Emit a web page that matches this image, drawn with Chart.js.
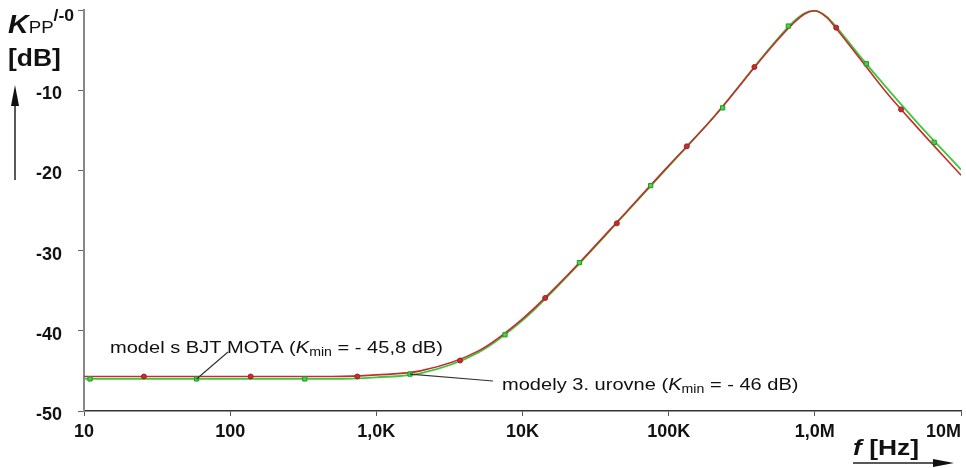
<!DOCTYPE html>
<html>
<head>
<meta charset="utf-8">
<script src="https://cdn.jsdelivr.net/npm/chart.js@4.4.0/dist/chart.umd.min.js"></script>
<style>
  html, body { margin: 0; padding: 0; background: #fff; }
</style>
</head>
<body>
<canvas id="chartKpp" width="966" height="468"></canvas>
<script>
// frekvencie [Hz], v ktorych su odcitane priebehy
const freqs = [10, 20, 50, 100, 200, 500, 1e3, 2e3, 5e3, 1e4, 2e4, 5e4, 1e5, 2e5, 5e5, 7e5, 8.5e5, 1e6, 1.2e6, 1.4e6, 2e6, 3e6, 5e6, 1e7];
// model s BJT MOTA [dB]
const kBjtMota = [-45.7, -45.7, -45.7, -45.7, -45.7, -45.7, -45.5, -45.0, -42.5, -38.5, -33.2, -25.4, -19.4, -13.5, -4.7, -1.8, -0.5, -0.1, -0.9, -2.3, -5.9, -10.0, -14.6, -20.6];
// modely 3. urovne [dB]
const kModely3 = [-46.0, -46.0, -46.0, -46.0, -46.0, -46.0, -45.8, -45.3, -42.7, -38.7, -33.3, -25.5, -19.5, -13.5, -4.6, -1.6, -0.4, -0.1, -0.8, -2.1, -5.6, -9.4, -14.0, -19.9];

// znacky na krivkach
const bjtMarkF = [25.7, 138, 741, 3740, 14300, 44200, 133000, 386000, 1.40e6, 3.89e6];
const bjtMarkV = [-45.7, -45.7, -45.7, -43.7, -35.9, -26.6, -17.0, -7.1, -2.2, -12.4];
const m3MarkF = [11, 58.9, 324, 1700, 7590, 24500, 75300, 234000, 659000, 2.25e6, 6.55e6];
const m3MarkV = [-46.0, -46.0, -46.0, -45.4, -40.5, -31.5, -21.9, -12.2, -2.0, -6.7, -16.5];

const xTicks = [10, 100, 1e3, 1e4, 1e5, 1e6, 1e7];
// posledny popis je posunuty dolava (medzery vpravo), aby sa zmestil
const xTickLabels = ['10', '100', '1,0K', '10K', '100K', '1,0M', '10M\u00a0\u00a0\u00a0\u00a0\u00a0\u00a0\u00a0'];
const yTicks = [-50, -40, -30, -20, -10, 0];
const yTickLabels = ['-50', '-40', '-30', '-20', '-10', ''];

const RED = '#c62d2d';
const GREEN = '#3cc83c';
const FONT = "'Liberation Sans', Arial, sans-serif";

const toPoints = (xs, ys) => xs.map((x, i) => ({ x: x, y: ys[i] }));

// text s horizontalnym natiahnutim, po castiach (index, exponent)
function drawParts(ctx, parts, x, baseline, sx) {
    ctx.save();
    ctx.translate(x, baseline);
    ctx.scale(sx, 1);
    let cx = 0;
    parts.forEach(p => {
        ctx.font = p.font;
        ctx.fillText(p.t, cx, p.dy || 0);
        cx += ctx.measureText(p.t).width;
    });
    ctx.restore();
}

const annotations = {
    id: 'annotations',
    afterDraw(chart) {
        const ctx = chart.ctx;
        const xs = chart.scales.x;
        const ys = chart.scales.y;
        ctx.save();
        ctx.fillStyle = '#111';
        ctx.strokeStyle = '#222';
        ctx.textBaseline = 'alphabetic';

        // popis osi y
        drawParts(ctx, [
            { t: 'K', font: 'bold italic 26px ' + FONT },
            { t: 'PP', font: '17px ' + FONT },
            { t: '/-0', font: 'bold 16px ' + FONT, dy: -12 }
        ], 8, 33, 1.1);
        drawParts(ctx, [{ t: '[dB]', font: 'bold 23px ' + FONT }], 8, 66, 1.15);

        // sipka osi y
        ctx.lineWidth = 1.5;
        ctx.beginPath();
        ctx.moveTo(15, 180);
        ctx.lineTo(15, 100);
        ctx.stroke();
        ctx.beginPath();
        ctx.moveTo(15, 85);
        ctx.lineTo(11, 106);
        ctx.lineTo(19, 106);
        ctx.closePath();
        ctx.fill();

        // popis osi x
        drawParts(ctx, [
            { t: 'f', font: 'bold italic 22px ' + FONT },
            { t: ' [Hz]', font: 'bold 22px ' + FONT }
        ], 853, 455, 1.2);
        ctx.beginPath();
        ctx.moveTo(853, 463);
        ctx.lineTo(936, 463);
        ctx.stroke();
        ctx.beginPath();
        ctx.moveTo(954, 463);
        ctx.lineTo(933, 459);
        ctx.lineTo(933, 467);
        ctx.closePath();
        ctx.fill();

        // odkazy na krivky
        ctx.strokeStyle = '#333';
        ctx.lineWidth = 1.2;
        ctx.beginPath();
        ctx.moveTo(228, 352);
        ctx.lineTo(xs.getPixelForValue(m3MarkF[1]), ys.getPixelForValue(m3MarkV[1]));
        ctx.stroke();
        ctx.beginPath();
        ctx.moveTo(xs.getPixelForValue(m3MarkF[3]), ys.getPixelForValue(m3MarkV[3]));
        ctx.lineTo(493, 381);
        ctx.stroke();

        drawParts(ctx, [
            { t: 'model s BJT MOTA (', font: '17px ' + FONT },
            { t: 'K', font: 'italic 17px ' + FONT },
            { t: 'min', font: '12px ' + FONT, dy: 3 },
            { t: ' = - 45,8 dB)', font: '17px ' + FONT }
        ], 110, 353, 1.18);
        drawParts(ctx, [
            { t: 'modely 3. urovne (', font: '17px ' + FONT },
            { t: 'K', font: 'italic 17px ' + FONT },
            { t: 'min', font: '12px ' + FONT, dy: 3 },
            { t: ' = - 46 dB)', font: '17px ' + FONT }
        ], 502, 390, 1.18);
        ctx.restore();
    }
};

new Chart(document.getElementById('chartKpp'), {
    type: 'line',
    data: {
        datasets: [
            {
                label: 'model s BJT MOTA - znacky',
                type: 'scatter',
                data: toPoints(bjtMarkF, bjtMarkV),
                pointStyle: 'circle',
                pointRadius: 2.5,
                backgroundColor: RED,
                borderColor: '#a02020',
                borderWidth: 1,
            },
            {
                label: 'modely 3. urovne - znacky',
                type: 'scatter',
                data: toPoints(m3MarkF, m3MarkV),
                pointStyle: 'rect',
                pointRadius: 3,
                backgroundColor: '#4fcf4f',
                borderColor: '#1f9a1f',
                borderWidth: 1,
            },
            {
                label: 'model s BJT MOTA',
                data: toPoints(freqs, kBjtMota),
                borderColor: RED,
                borderWidth: 1.6,
                pointRadius: 0,
                cubicInterpolationMode: 'monotone',
            },
            {
                label: 'modely 3. urovne',
                data: toPoints(freqs, kModely3),
                borderColor: GREEN,
                borderWidth: 1.8,
                pointRadius: 0,
                cubicInterpolationMode: 'monotone',
            },
        ],
    },
    options: {
        responsive: false,
        animation: false,
        layout: { padding: { top: 10, right: 3, left: 0, bottom: 0 } },
        plugins: { legend: { display: false }, tooltip: { enabled: false } },
        scales: {
            x: {
                type: 'logarithmic',
                min: 10,
                max: 1e7,
                afterBuildTicks: (s) => { s.ticks = xTicks.map(v => ({ value: v })); },
                afterFit: (s) => { s.height = 57; s.paddingLeft = 0; s.paddingRight = 0; },
                ticks: {
                    callback: (v) => xTickLabels[xTicks.indexOf(v)],
                    autoSkip: false,
                    maxRotation: 0,
                    padding: 5,
                    color: '#111',
                    font: { family: FONT, size: 18, weight: 'bold' },
                },
                grid: { drawOnChartArea: false, tickLength: 5, color: '#555' },
                border: { color: '#333', width: 1.5 },
            },
            y: {
                type: 'linear',
                min: -50,
                max: 0,
                afterBuildTicks: (s) => { s.ticks = yTicks.map(v => ({ value: v })); },
                afterFit: (s) => { s.width = 84; s.paddingTop = 0; s.paddingBottom = 0; },
                ticks: {
                    callback: (v) => yTickLabels[yTicks.indexOf(v)],
                    padding: 16,
                    labelOffset: 4,
                    color: '#111',
                    font: { family: FONT, size: 18, weight: 'bold' },
                },
                grid: { drawOnChartArea: false, tickLength: 6, color: '#666' },
                border: { color: '#888', width: 2 },
            },
        },
    },
    plugins: [annotations],
});
</script>
</body>
</html>
